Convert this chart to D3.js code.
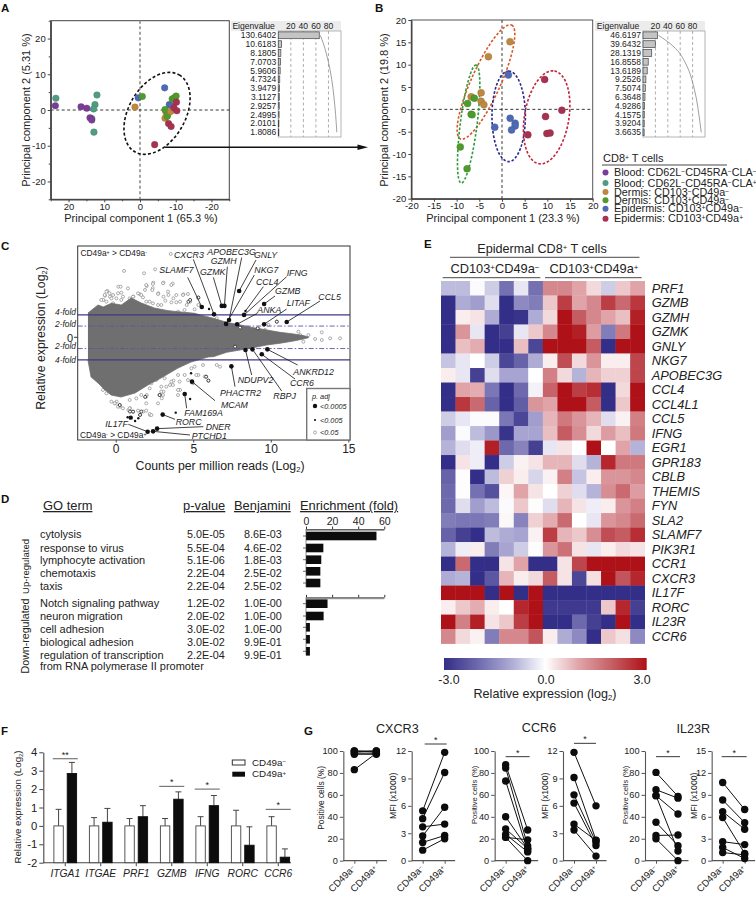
<!DOCTYPE html>
<html><head><meta charset="utf-8">
<script src="https://cdn.jsdelivr.net/npm/d3@7/dist/d3.min.js"></script>
<style>
html,body{margin:0;padding:0;background:#fff}
svg{display:block;font-family:"Liberation Sans",Arial,sans-serif}
svg text{fill:#222}
</style></head><body>
<script>
// ---------- DATA ----------
const pcaGroupNames=["Blood: CD62L^−CD45RA^−CLA^−","Blood: CD62L^−CD45RA^−CLA^+","Dermis: CD103^−CD49a^−","Dermis: CD103^+CD49a^−","Epidermis: CD103^+CD49a^−","Epidermis: CD103^+CD49a^+"];
const pcaColors=["#7b3c98","#4f9c82","#bd8840","#4f9a2c","#4f6ab4","#a7324f"];
// panel A scores [PC1, PC2, group]
const pcaAScores=[
[23.55,3.3,1],[12.05,4.2,1],[12.6,1.5,1],[13,0.3,1],[13.5,-2.4,1],[12.9,-6.2,1],
[23.7,1.2,0],[16.5,0.9,0],[14.9,0.5,0],[14,-2.2,0],[13.5,-2.8,0],
[1.4,0.8,2],[-7,-2.3,2],[-7.3,-0.8,2],[-7.8,-1.3,2],
[0.5,3.4,4],[-6.9,6.2,4],[-8.2,1.5,4],[-8.7,1.2,4],
[-0.65,3.8,3],[-7,0.1,3],[-9,3.1,3],[-9.6,3.4,3],[-10.1,3.9,3],[-7.6,-1.8,3],
[-8.6,-0.4,2],
[-4.1,-9.7,5],[-10.2,2.2,5],[-9.5,0.6,5],[-10.3,-0.2,5],[-8,-3.8,5],[-8.7,-4.6,5]];
const pcaBScores=[
[1.76,15.15,2],[-3,11.8,2],[-4.6,3.7,2],[-6.8,2.8,2],[-4.6,1.8,2],[-4,1.05,2],
[-6.1,2.5,3],[-7.6,1.3,3],[-6.8,-1.1,3],[-6.6,-1.2,3],[-9.2,-8.4,3],[-7.7,-13.3,3],
[1.4,7.7,4],[1.8,-2,4],[2.9,-3.1,4],[2.9,-3.7,4],[2.1,-4.6,4],[-1.6,-4,4],
[9.4,6.7,5],[13.2,-0.2,5],[9.6,-1.6,5],[5.7,-5.7,5],[9.9,-5.4,5],[10.6,-5.3,5]];
const eigenA=[130.6402,10.6183,8.1805,7.0703,5.9606,4.7324,3.9479,3.1127,2.9257,2.4995,2.0101,1.8086];
const eigenB=[46.6197,39.6432,28.1319,16.8558,13.6189,9.2526,7.5074,6.3648,4.9286,4.1575,3.9204,3.6635];
const eigenTicks=[20,40,60,80];

// panel C: outline of the dense grey cloud
const cloudUpperX=[-1.79,-1.14,-0.8,-0.28,0.36,1.0,1.65,2.5,3.37,4.0,5.1,5.44,6.3,7.16,8.02,8.88,9.74,10.6,11.46,12.1,12.43];
const cloudUpperY=[2.16,2.87,2.7,3.02,2.87,3.49,3.05,2.6,2.37,2.28,2.13,1.99,1.69,1.33,1.1,0.86,0.65,0.44,0.3,0.15,0.03];
const cloudLowerX=[12.43,12.1,11.46,10.6,9.74,8.88,8.02,7.16,6.3,5.96,4.86,4.02,2.92,2.08,1.25,0.34,-0.3,-0.69,-1.14,-1.59,-1.79];
const cloudLowerY=[-0.03,-0.15,-0.33,-0.53,-0.68,-0.92,-1.13,-1.33,-1.72,-1.75,-2.2,-2.73,-3.62,-4.24,-4.95,-5.31,-5.13,-4.68,-4.06,-3.53,-2.02];
const cOpenPoints=[[3.55,7.41],[0.54,5.9],[2.54,6.04],[1.83,5.69],[2,4.56],[2.43,4.86],[3.08,4.86],[3.68,4.77],[2.39,4.36],[1.89,4.21],[0.17,4.5],[0.32,4.5],[-0.54,4.12],[-0.69,3.7],[-0.8,3.32],[-0.37,3.61],[1.14,3.61],[1.57,3.82],[2.75,3.91],[3.08,3.61],[3.4,3.76],[4.37,3.82],[5.33,3.53],[4.8,3.17],[4.58,2.87],[4.15,3.17],[3.72,3.47],[5.33,2.87],[5.98,1.54],[6.52,1.69],[6.73,1.24],[9.2,0.74],[9.63,0.65],[10.39,1.39],[9.85,1.1],[11.78,0.5],[11.9,0.2],[12.43,0.2],[13.29,0.44],[12.86,-0.15],[13.29,-0.24],[13.83,-0.09],[14.47,-0.09],[12.1,-0.39],[12,0.06],[7.81,-0.98],[6.73,-2.61],[6.52,-2.46],[5.83,-3.5],[5.98,-3.85],[5.33,-3.35],[4.15,-4.68],[3.72,-3.85],[3.5,-4.24],[2.86,-5.13],[3.08,-4.83],[2,-5.13],[1.57,-6.9],[2.22,-6.9],[0.92,-6.31],[0.06,-5.72],[-0.04,-5.87],[0.28,-6.16],[0.82,-6.46],[1.78,-6.6],[2.97,-5.42],
// band above the solid cloud
[-0.6,4.06],[-0.39,3.91],[-0.71,3.76],[-0.17,3.76],[0.15,3.91],[0.36,3.97],[0.47,3.61],[0.04,3.46],[-0.28,3.46],[-0.6,3.17],[-0.93,3.32],[0.79,4.35],[-0.17,3.02],[0.36,3.32],[1.44,3.91],[1.65,3.76],[1.76,3.55],[1.12,3.61],[0.9,3.46],[1.22,3.17],[1.97,3.17],[2.19,3.17],[2.4,3.02],[2.73,2.87],[2.94,2.87],[3.2,3.26],[3.59,3.11],[3.91,3.11],[2.73,3.85],[3.37,4.06],[3.91,3.76],[4.34,3.76],[4.66,3.85],[1.97,4.65],[2.4,4.74],[3.05,4.8],[3.59,4.65],[2.36,4.2],[4.44,2.43],[5.09,2.49],[4.02,2.28],
// band below the solid cloud
[-0.82,-4.68],[-0.6,-4.98],[-0.28,-5.72],[-0.07,-5.87],[0.26,-6.02],[0.47,-6.31],[0.9,-6.31],[1.12,-6.61],[1.44,-6.52],[1.97,-6.52],[2.19,-6.82],[2.3,-6.91],[1.65,-5.13],[1.97,-5.28],[1.97,-5.87],[2.73,-5.87],[2.94,-4.83],[2.83,-5.13],[3.05,-5.13],[3.59,-3.94],[3.69,-4.24],[3.26,-4.39],[4.12,-3.94],[4.45,-3.35],[4.02,-4.68],[4.02,-5.13],[5.09,-2.61],[5.63,-2.46],[4.88,-2.76],[2.94,-4.39],[2.62,-3.8],[2.19,-4.54],[1.33,-5.43],[0.9,-5.57],[0.15,-6.17],[5.74,-3.5],[2.3,-4.09],[3.16,-3.65],[4.02,-3.35],[4.66,-3.8],[5.2,-3.35],[4.98,-4.09]];
const cDarkOpenPoints=[[4.69,3.17],[4.8,3.32],[5.33,3.53],[5.98,-3.85],[5.83,-3.5],[7.7,-0.83],[9.16,0.8],[10.39,1.39],[0.92,-6.6],[1.57,-6.9],[8.02,0.86],[0.26,-6.02],[1.12,-6.61],[1.65,-6.6],[2.83,-5.13],[1.9,-5.3]];
const cSmallPoints=[[6.02,2.52],[4.86,-3.2],[3.87,-6.7],[4.8,-5.48],[1.25,-7.44],[0.77,-7.11],[1.46,-7.2]];
const cExtraBig=[[0.97,-7.14]];
const cGenes=["SLAMF7","CXCR3","GZMK","GZMH","APOBEC3G","GNLY","NKG7","CCL4","IFNG","GZMB","ANKA","LITAF","CCL5","ANKRD12","CCR6","RBPJ","NDUPV2","PHACTR2","MCAM","FAM169A","RORC","DNER","PTCHD1","IL17F"];
const cGeneX=[5.55,6.34,6.84,7.01,7.31,7.96,7.12,8.37,8.28,9.57,7.83,9.57,11.03,9.78,9.42,8.82,8.37,7.46,4.92,4.45,3.03,2.67,2.41,2.06];
const cGeneY=[2.7,2.04,2.79,2.79,1.54,4.12,1.19,2.34,1.99,2.96,1.16,1.16,1.36,-1.07,-1.51,-1.07,-1.13,-2.58,-3.94,-5.04,-6.87,-8.12,-8.36,-8.39];
const cGeneSmall=["CCL4"];
const cXTicks=[0,5,10,15];

// panel D
const goUpTerms=["cytolysis","response to virus","lymphocyte activation","chemotaxis","taxis"];
const goUpP=["5.0E-05","5.5E-04","5.1E-06","2.2E-04","2.2E-04"];
const goUpB=["8.6E-03","4.6E-02","1.8E-03","2.5E-02","2.5E-02"];
const goUpFold=[54,13.3,11.7,11,11];
const goDownTerms=["Notch signaling pathway","neuron migration","cell adhesion","biological adhesion","regulation of transcription"];
const goDownP=["1.2E-02","2.0E-02","3.0E-02","3.0E-02","2.2E-04"];
const goDownB=["1.0E-00","1.0E-00","1.0E-00","9.9E-01","9.9E-01"];
const goDownFold=[16.5,13.5,3,3,3];

// panel E
const heatGenes=["PRF1","GZMB","GZMH","GZMK","GNLY","NKG7","APOBEC3G","CCL4","CCL4L1","CCL5","IFNG","EGR1","GPR183","CBLB","THEMIS","FYN","SLA2","SLAMF7","PIK3R1","CCR1","CXCR3","IL17F","RORC","IL23R","CCR6"];
const heatValues=[
[-0.8,-0.8,-0.05,-0.6,-1.9,-0.3,-1.9,1.4,1.4,1.0,0.4,-0.6,0.6,1.0],
[-3,-1.0,-1.2,-0.4,-3,-1.5,-1.7,0.6,2.4,1.0,1.4,2.4,1.8,2.5],
[-3,0.2,0.3,-1.0,-3,-2.9,-1.0,0.4,3,2,1.4,1,0.7,2.8],
[-3,1.2,-0.3,-3,-2.7,-0.3,0.6,1.4,3,2.8,1.1,-1.7,1.6,3],
[-3,0.7,0.9,-3,-3,0.7,-2.6,3,3,3,2,-3,3,3],
[-0.7,-0.3,0,-0.6,-2.6,-2.1,-1.0,0.2,2.2,0.4,1.2,0.2,0.2,2.3],
[0.2,-0.3,-2.7,-0.4,-1.1,-1.1,0,1.5,0.4,-0.9,0.8,0.5,0.5,2.3],
[-3,1.0,0.9,-1.8,-3,-2.0,-0.15,1.9,3,2.4,2.6,-3,0.4,3],
[-3,2.5,1.8,-2.1,-3,-2.2,1.2,1,3,3,2,-3,0.6,3],
[-0.6,-0.3,-0.05,-0.05,-1.8,-2.6,-1.2,0.8,1.6,1.2,0.8,-0.4,0.15,1.5],
[-1.2,-0.05,-0.8,-1.3,-2.9,-1.1,-1.1,0.7,2,1.3,0.4,1.1,0.7,1.6],
[-0.9,-0.4,-0.2,2.8,-2,-1.6,-2.7,-0.3,0.3,0,3,0,1,-0.9],
[-3,0.3,-0.2,-3,-0.6,0.15,0.3,0.8,0.8,-0.4,-0.9,2.7,1.6,1.6],
[-2.1,-0.02,-3,-0.8,0.5,0.2,-0.5,0.15,1.5,-0.7,0.2,1.2,1.2,1.4],
[-2,-0.02,-1.9,-2.4,0.1,1,0.3,0,0.5,-0.4,-0.9,1.3,1.8,1.1],
[-2,-0.4,-1.2,-0.8,-0.05,0.6,-0.02,-0.4,0.8,0.3,-0.2,0.2,1.2,1.5],
[-1.7,-1.8,-1.8,-1.7,0.08,-1.6,0.5,0.9,1.8,0,-0.3,1.2,1.4,1.8],
[-2.1,-2.7,-3,-0.8,-1,-1.1,0.15,2.4,0.8,0.6,1.3,2.2,2,2.6],
[-0.9,-0.2,0.2,-1.7,-1.1,-0.6,-0.02,1.2,1.7,0.3,-0.3,0.2,0.4,0.3],
[-3,1.8,-3,-3,0.3,1.0,-3,-3,0.3,2.3,3,3,3,3],
[-1.0,-0.9,-3,-2.3,0.8,0.2,0.4,2.0,0.3,-2.6,0.35,3,2.1,2.7],
[3,3,3,-3,3,-3,3,-3,-3,-3,-3,-3,-3,-3],
[0.2,0.6,0.9,0.2,0,2.7,3,-2.8,-2.8,-2.8,-2.8,0.6,2.7,-2.7],
[3,1.5,2.8,0.3,0.6,2.4,3,-3,-3,-2,-2.7,-3,3,-3],
[1.4,0.4,0.15,-1.7,1.4,1.4,2.1,0.2,-1,-1.5,-3,0.6,0.35,-1.5]];
const heatStops=[-3,-2,-1,0,1,2,3];
const heatColors=["#332e87","#6e69ad","#aeabd5","#ffffff","#dfa3a8","#c45c62","#ae1117"];

// panel F
const fGenes=["ITGA1","ITGAE","PRF1","GZMB","IFNG","RORC","CCR6"];
const fNeg=[0,0,0,0,0,0,0];
const fNegTop=[0.9,0.45,0.4,0.4,0.5,0.85,0.5];
const fPos=[2.85,0.2,0.5,1.45,1.1,-1.05,-1.7];
const fPosTop=[3.45,0.95,1.1,1.85,1.65,-0.05,-1.25];
const fSig=["**","","","*","*","","*"];
const fSigY=[3.65,null,null,2.15,2,null,0.9];

// panel G: paired values [CD49a-, CD49a+]
const gCXCR3Pct=[[99,100],[100,99],[98,98],[97,97],[100,100],[83,98]];
const gCXCR3Mfi=[[5.45,11.85],[4.6,9.65],[3.7,4.0],[2.7,5.85],[2.0,2.75],[1.15,2.4]];
const gCCR6Pct=[[87.5,28],[84.5,13.5],[72.6,9],[40,11],[29,11],[24,8],[21.3,0],[21.3,19]];
const gCCR6Mfi=[[11.85,6],[9.1,2.25],[7.2,2.0],[6.3,1.65],[4,2.2],[3.35,0.5]];
const gIL23RPct=[[80.5,58.6],[64.7,57],[59.3,42.5],[59.3,8.8],[35,13.7],[23,23.4],[20,0]];
const gIL23RMfi=[[10.7,7],[8.3,5.2],[6.7,4.3],[5.9,1],[2.6,2.2],[1.8,0.3],[1.1,0.8]];
const gPctTicks=[0,20,40,60,80,100];
const gMfiTicks=[0,3,6,9,12];
const gMfi15Ticks=[0,3,6,9,12,15];

// ---------- HELPERS ----------
const svg=d3.select("body").append("svg").attr("width",756).attr("height",899).attr("viewBox","0 0 756 899");
function rich(sel,str){
  sel.each(function(){
    const t=d3.select(this);t.text(null);
    const parts=str.split(/([\^_].)/).filter(s=>s.length);
    parts.forEach(p=>{
      if(p[0]==="^"){t.append("tspan").attr("font-size","62%").attr("baseline-shift","35%").text(p[1]);}
      else if(p[0]==="_"){t.append("tspan").attr("font-size","62%").attr("baseline-shift","-25%").text(p[1]);}
      else t.append("tspan").text(p);
    });
  });
  return sel;
}
function txt(g,x,y,s,o={}){
  const t=g.append("text").attr("x",x).attr("y",y).attr("font-size",o.size||10)
    .attr("text-anchor",o.anchor||"start");
  if(o.italic)t.attr("font-style","italic");
  if(o.bold)t.attr("font-weight","bold");
  if(o.fill)t.style("fill",o.fill);
  if(o.rotate!=null)t.attr("transform",`rotate(${o.rotate} ${x} ${y})`);
  if(o.underline)t.attr("text-decoration","underline");
  rich(t,s);
  return t;
}
function styleAxis(g,o={}){
  g.selectAll("path.domain").attr("stroke",o.stroke||"#444").attr("stroke-width",o.width||1);
  g.selectAll(".tick line").attr("stroke",o.stroke||"#444").attr("stroke-width",o.tickWidth||1);
  g.selectAll(".tick text").attr("font-size",o.size||10).attr("font-family","inherit").style("fill","#222");
}
[["A",1,12],["B",375,12],["C",1,250],["D",1,503],["E",424,248],["F",1,735],["G",304,735]].forEach(d=>txt(svg,d[1],d[2],d[0],{size:11.5,bold:true,fill:"#111"}));

// ---------- PCA ----------
function pca(o){
  const g=svg.append("g");
  const x=d3.scaleLinear().domain(o.dom).range(o.xr);
  const y=d3.scaleLinear().domain([o.ydom[1],o.ydom[0]]).range(o.yr);
  g.append("rect").attr("x",o.xr[0]).attr("y",o.yr[0]).attr("width",o.xr[1]-o.xr[0]).attr("height",o.yr[1]-o.yr[0]).attr("fill","#fff").attr("stroke",o.frame).attr("stroke-width",1);
  g.append("line").attr("x1",x(0)).attr("x2",x(0)).attr("y1",o.yr[0]).attr("y2",o.yr[1]).attr("stroke",o.vStroke).attr("stroke-width",o.vW).attr("stroke-dasharray","3 2.5");
  g.append("line").attr("x1",o.xr[0]).attr("x2",o.xr[1]).attr("y1",y(0)).attr("y2",y(0)).attr("stroke","#222").attr("stroke-width",0.9).attr("stroke-dasharray","3 2.5");
  const ax=g.append("g").attr("transform",`translate(0,${o.yr[1]})`).call(d3.axisBottom(x).tickValues(o.minor).tickFormat("").tickSize(2).tickSizeOuter(0));
  styleAxis(ax,{stroke:"#444"});
  const ax2=g.append("g").attr("transform",`translate(0,${o.yr[1]})`).call(d3.axisBottom(x).tickValues(o.xticks).tickFormat(d=>d===0?"0":d<0?"-"+(-d):d).tickSize(3).tickPadding(1).tickSizeOuter(0));
  styleAxis(ax2,{stroke:"#444",size:o.tick});
  const ay=g.append("g").attr("transform",`translate(${o.xr[0]},0)`).call(d3.axisLeft(y).tickValues(o.minor).tickFormat("").tickSize(2).tickSizeOuter(0));
  styleAxis(ay,{stroke:"#444"});
  const ay2=g.append("g").attr("transform",`translate(${o.xr[0]},0)`).call(d3.axisLeft(y).tickValues(o.yticks).tickFormat(d=>d===0?"0":d<0?"-"+(-d):d).tickSize(3).tickPadding(2).tickSizeOuter(0));
  styleAxis(ay2,{stroke:"#444",size:o.tick});
  o.ellipses.forEach(e=>{
    g.append("ellipse").attr("rx",e.a).attr("ry",e.b).attr("fill","none").attr("stroke",e.c).attr("stroke-width",e.w||1.6).attr("stroke-dasharray",e.d||"2.6 1.8")
      .attr("transform",`translate(${x(e.cx)},${y(e.cy)}) rotate(${-e.ang})`);
  });
  g.selectAll("circle.p").data(o.scores).join("circle").attr("class","p").attr("cx",d=>x(d[0])).attr("cy",d=>y(d[1])).attr("r",o.r)
    .attr("fill",d=>pcaColors[d[2]]).attr("stroke",d=>d3.color(pcaColors[d[2]]).darker(0.5)).attr("stroke-width",0.4);
  txt(g,o.xt[0],o.xt[1],o.xlab,{size:o.lab,anchor:"middle"});
  txt(g,o.yt[0],o.yt[1],o.ylab,{size:o.lab,anchor:"middle",rotate:-90});
}
function eigen(o){
  const g=svg.append("g");
  const total=200;
  const x=d3.scaleLinear().domain([0,100]).range([o.x0,o.x1]);
  const rows=d3.scalePoint().domain(d3.range(o.values.length)).range([35.3,132.3]);
  g.append("rect").attr("x",o.hx).attr("y",o.top).attr("width",o.x1-o.hx).attr("height",10).attr("fill","#ececec");
  g.append("rect").attr("x",o.x0).attr("y",o.top+10).attr("width",o.x1-o.x0).attr("height",106).attr("fill","#fff").attr("stroke","#b5b5b5").attr("stroke-width",1);
  txt(g,(o.hx+o.x0)/2-1,o.top+8,"Eigenvalue",{size:8.6,anchor:"middle"});
  eigenTicks.forEach(t=>{
    g.append("line").attr("x1",x(t)).attr("x2",x(t)).attr("y1",o.top+10).attr("y2",o.top+116).attr("stroke","#999").attr("stroke-width",0.8).attr("stroke-dasharray","3 2.5");
    txt(g,x(t),o.top+8,String(t),{size:8.6,anchor:"middle"});
  });
  g.selectAll("rect.b").data(o.values).join("rect").attr("class","b").attr("x",o.x0).attr("y",(d,i)=>rows(i)-3.4).attr("height",6.8).attr("width",d=>x(d/total*100)-o.x0)
    .attr("fill","#c4c4c4").attr("stroke","#444").attr("stroke-width",0.7);
  g.selectAll("text.l").data(o.values).join("text").attr("class","l").attr("x",o.x0-2).attr("y",(d,i)=>rows(i)+3).attr("text-anchor","end").attr("font-size",8.5).text(d=>d.toFixed(4));
  const cum=Array.from(d3.cumsum(o.values)).map(v=>v/total*100);
  g.append("path").datum(cum).attr("fill","none").attr("stroke","#888").attr("stroke-width",0.8)
    .attr("d",d3.line().x(d=>x(d)+1).y((d,i)=>rows(i)).curve(d3.curveMonotoneY));
}
pca({dom:[25,-25],ydom:[-25,25],xr:[50.7,229.3],yr:[20.7,199.3],frame:"#444",vStroke:"#999",vW:1.8,
 minor:[-25,-15,-5,5,15,25],xticks:[20,10,0,-10,-20],yticks:[20,10,0,-10,-20],tick:9.5,lab:11,r:3.3,scores:pcaAScores,
 ellipses:[{cx:-4.77,cy:-0.94,a:44.4,b:28.3,ang:60,c:"#111",w:1.6,d:"3 2.2"}],
 xt:[141,221.5],yt:[30,110],xlab:"Principal component 1  (65.3 %)",ylab:"Principal component 2  (5.31 %)"});
eigen({values:eigenA,hx:231,x0:278.3,x1:341,top:21});
pca({dom:[-20,20],ydom:[-20,20],xr:[411.3,592.7],yr:[20,198.7],frame:"#555",vStroke:"#222",vW:0.9,
 minor:[],xticks:d3.range(-20,21,5),yticks:d3.range(-20,21,5),tick:9.5,lab:11,r:3.5,scores:pcaBScores,
 ellipses:[
  {cx:-3.53,cy:6.12,a:62.4,b:14.6,ang:65.8,c:"#d8572a"},
  {cx:-7.35,cy:-3.28,a:59.5,b:8.4,ang:82.8,c:"#2f9a3a"},
  {cx:1.47,cy:-1.57,a:45.3,b:16.7,ang:90,c:"#27278f"},
  {cx:9.85,cy:-1.79,a:47,b:22.2,ang:80.5,c:"#c4203a"}],
 xt:[503,221.5],yt:[388,110],xlab:"Principal component 1  (23.3 %)",ylab:"Principal component 2  (19.8 %)"});
eigen({values:eigenB,hx:595,x0:643,x1:705,top:21});
// arrow from A to B
const arrowG=svg.append("g");
arrowG.append("line").attr("x1",165).attr("x2",360).attr("y1",147.3).attr("y2",147.3).attr("stroke","#111").attr("stroke-width",1.4);
arrowG.append("path").attr("d",d3.line()([[368,147.3],[357.5,144.5],[357.5,150.1]])+"Z").attr("fill","#111");
// legend B
const legB=svg.append("g");
txt(legB,603,162,"CD8^+ T cells",{size:11});
legB.append("line").attr("x1",602).attr("x2",727).attr("y1",165).attr("y2",165).attr("stroke","#333").attr("stroke-width",0.9);
const legRows=[172.5,183,192,200.3,208.7,218.7];
pcaGroupNames.forEach((n,i)=>{
  legB.append("circle").attr("cx",605.5).attr("cy",legRows[i]).attr("r",3).attr("fill",pcaColors[i]);
  txt(legB,614,legRows[i]+3.5,n,{size:10.8});
});

// ---------- PANEL C ----------
(function(){
  const g=svg.append("g");
  const x=d3.scaleLinear().domain([0,15]).range([115.7,348.3]);
  const y=d3.scaleLinear().domain([-1,1]).range([337.3+11.25,337.3-11.25]);
  const L=77.7,R=350,T=246,B=440;
  g.append("rect").attr("x",L).attr("y",T).attr("width",R-L).attr("height",B-T).attr("fill","#fff");
  g.selectAll("circle.o").data(cOpenPoints).join("circle").attr("class","o").attr("cx",d=>x(d[0])).attr("cy",d=>y(d[1])).attr("r",1.5).attr("fill","#fff").attr("stroke","#8a8a8a").attr("stroke-width",0.7);
  const outline=[...cloudUpperX.map((v,i)=>[v,cloudUpperY[i]]),...cloudLowerX.map((v,i)=>[v,cloudLowerY[i]])];
  g.append("path").datum(outline).attr("fill","#6f6f6f").attr("stroke","#6f6f6f").attr("stroke-width",0.8)
    .attr("d",d3.line().x(d=>x(d[0])).y(d=>y(d[1])));
  g.selectAll("circle.d").data(cDarkOpenPoints).join("circle").attr("class","d").attr("cx",d=>x(d[0])).attr("cy",d=>y(d[1])).attr("r",1.5).attr("fill","#fff").attr("stroke","#222").attr("stroke-width",0.8);
  [1,-1].forEach(v=>g.append("line").attr("x1",L).attr("x2",R).attr("y1",y(v)).attr("y2",y(v)).attr("stroke","#5a55a6").attr("stroke-width",0.9).attr("stroke-dasharray","5 2 1.5 2"));
  [2,-2].forEach(v=>g.append("line").attr("x1",L).attr("x2",R).attr("y1",y(v)).attr("y2",y(v)).attr("stroke","#3c3889").attr("stroke-width",1.3));
  // leader ends and label anchors (layout, not data)
  const ox=0,oy=235;
  const layout={SLAMF7:[563,127,478,115],CXCR3:[580,73,522,68],GZMK:[640,127,600,120],GZMH:[682,95,632,88],APOBEC3G:[725,68,622,60],GNLY:[768,75,762,70],NKG7:[763,120,763,113],CCL4:[790,155,768,151],IFNG:[860,125,860,122],GZMB:[825,183,825,178],ANKA:[772,235,772,233],LITAF:[860,222,860,213],CCL5:[960,198,955,195],ANKRD12:[893,390,880,420],CCR6:[885,432,870,453],RBPJ:[845,468,820,492],NDUPV2:[755,420,713,445],PHACTR2:[705,455,660,483],MCAM:[645,497,663,519],FAM169A:[560,520,553,544],RORC:[525,553,527,570],DNER:[610,575,617,585],PTCHD1:[570,600,575,612],IL17F:[385,568,316,575]};
  cGenes.forEach((n,i)=>{
    const l=layout[n];
    g.append("line").attr("x1",x(cGeneX[i])).attr("y1",y(cGeneY[i])).attr("x2",ox+l[0]/3).attr("y2",oy+l[1]/3).attr("stroke","#111").attr("stroke-width",0.8);
  });
  g.selectAll("circle.s").data(cSmallPoints).join("circle").attr("class","s").attr("cx",d=>x(d[0])).attr("cy",d=>y(d[1])).attr("r",1.2).attr("fill","#111");
  g.selectAll("circle.e").data(cExtraBig).join("circle").attr("class","e").attr("cx",d=>x(d[0])).attr("cy",d=>y(d[1])).attr("r",2.2).attr("fill","#111");
  cGenes.forEach((n,i)=>{
    g.append("circle").attr("cx",x(cGeneX[i])).attr("cy",y(cGeneY[i])).attr("r",cGeneSmall.includes(n)?1.2:2.3).attr("fill","#111");
    const l=layout[n];
    txt(g,ox+l[2]/3,oy+l[3]/3,n,{size:8.8,italic:true});
  });
  g.append("rect").attr("x",L).attr("y",T).attr("width",R-L).attr("height",B-T).attr("fill","none").attr("stroke","#333").attr("stroke-width",1);
  const ax=g.append("g").attr("transform",`translate(0,${B})`).call(d3.axisBottom(x).tickValues(cXTicks).tickSize(2.5).tickPadding(2).tickSizeOuter(0));
  ax.select("path.domain").remove();styleAxis(ax,{size:12});
  txt(g,80.5,256,"CD49a^+ > CD49a^-",{size:8.4});
  txt(g,80,438,"CD49a^- > CD49a^+",{size:8.4});
  [["4-fold",2,0],["2-fold",1,1.5],["2-fold",-1,1],["4-fold",-2,3]].forEach(d=>txt(g,76,y(d[1])+d[2]-0.3,d[0],{size:8.4,italic:true,anchor:"end"}));
  txt(g,70,341.5,"0",{size:11,anchor:"middle"});
  g.append("line").attr("x1",74).attr("x2",77.7).attr("y1",337.3).attr("y2",337.3).attr("stroke","#333");
  txt(g,45,338,"Relative expression (Log_2)",{size:12.3,anchor:"middle",rotate:-90});
  txt(g,220,470,"Counts per million reads (Log_2)",{size:12.3,anchor:"middle"});
  // legend
  g.append("rect").attr("x",306.7).attr("y",388.5).attr("width",43.3).attr("height",51.5).attr("fill","#fff").attr("stroke","#777").attr("stroke-width",1.4);
  txt(g,312,399,"p. adj",{size:7.3,italic:true});
  [["<0.0005",406,2.2,"#111"],["<0.005",420,1.1,"#111"],["<0.05",432.5,1.5,"#fff"]].forEach(d=>{
    g.append("circle").attr("cx",315).attr("cy",d[1]).attr("r",d[2]).attr("fill",d[3]).attr("stroke",d[3]==="#fff"?"#888":"none").attr("stroke-width",0.7);
    txt(g,320,d[1]+2.5,d[0],{size:7.3,italic:true});
  });
})();

// ---------- PANEL D ----------
(function(){
  const g=svg.append("g");
  txt(g,43,510,"GO term",{size:12.9,underline:true});
  txt(g,183,510,"p-value",{size:12.9,underline:true});
  txt(g,234,510,"Benjamini",{size:12.9,underline:true});
  txt(g,300,510,"Enrichment (fold)",{size:12.9,underline:true});
  const upY=[538.3,551.7,564.3,577,590];
  const downY=[607.3,620.3,633.3,646,658.7];
  function rows(terms,p,b,ys){terms.forEach((t,i)=>{
    txt(g,40,ys[i],t,{size:11});txt(g,187,ys[i],p[i],{size:10.8});txt(g,244,ys[i],b[i],{size:10.8});});}
  rows(goUpTerms,goUpP,goUpB,upY);rows(goDownTerms,goDownP,goDownB,downY);
  txt(g,40,669.7,"from RNA polymerase II promoter",{size:11});
  txt(g,29,566.5,"Up-regulated",{size:9.5,anchor:"middle",rotate:-90});
  txt(g,29,636,"Down-regulated",{size:10.6,anchor:"middle",rotate:-90});
  const x=d3.scaleLinear().domain([0,60]).range([306,384.3]);
  const foldTicks=[0,20,40,60];
  function bars(vals,axisY,centers,labels){
    g.append("line").attr("x1",x(0)).attr("x2",x(60)).attr("y1",axisY+1).attr("y2",axisY+1).attr("stroke","#a5a5a5").attr("stroke-width",2);
    const a=g.append("g").attr("transform",`translate(0,${axisY})`).call(d3.axisTop(x).tickValues(foldTicks).tickSize(2.5).tickPadding(1.5).tickSizeOuter(0).tickFormat(labels?d3.format("d"):""));
    styleAxis(a,{stroke:"#333",size:10.5,width:0.6});
    g.selectAll(null).data(vals).join("rect").attr("x",x(0)).attr("y",(d,i)=>centers[i]-4.3).attr("height",8.6).attr("width",d=>x(d)-x(0)).attr("fill","#0c0c0c");
    centers.forEach(c=>g.append("line").attr("x1",x(0)-3).attr("x2",x(0)).attr("y1",c).attr("y2",c).attr("stroke","#444").attr("stroke-width",0.8));
    g.append("line").attr("x1",x(0)).attr("x2",x(0)).attr("y1",axisY).attr("y2",centers[4]+4).attr("stroke","#444").attr("stroke-width",0.6);
  }
  bars(goUpFold,529,[536,548,559.7,571.3,583],true);
  bars(goDownFold,597.3,[603.7,616,627.3,639.3,651.3],false);
})();

// ---------- PANEL E ----------
(function(){
  const g=svg.append("g");
  const col=d3.scaleBand().domain(d3.range(14)).range([441,644.7]);
  const row=d3.scaleBand().domain(heatGenes).range([281,643.6]);
  const color=d3.scaleLinear().domain(heatStops).range(heatColors).clamp(true);
  heatValues.forEach((r,i)=>{
    g.selectAll(null).data(r).join("rect").attr("x",(d,j)=>col(j)).attr("y",row(heatGenes[i])).attr("width",col.bandwidth()+0.3).attr("height",row.bandwidth()+0.3).attr("fill",d=>color(d));
    txt(g,651.7,row(heatGenes[i])+row.bandwidth()/2+4.5,heatGenes[i],{size:12.8,italic:true});
  });
  txt(g,542,253,"Epidermal CD8^+ T cells",{size:12.6,anchor:"middle"});
  g.append("line").attr("x1",450).attr("x2",639.5).attr("y1",257.3).attr("y2",257.3).attr("stroke","#333").attr("stroke-width",0.9);
  txt(g,495,273,"CD103^+CD49a^−",{size:12.8,anchor:"middle"});
  txt(g,594,273,"CD103^+CD49a^+",{size:12.8,anchor:"middle"});
  g.append("line").attr("x1",442.7).attr("x2",540.3).attr("y1",277.7).attr("y2",277.7).attr("stroke","#333").attr("stroke-width",0.9);
  g.append("line").attr("x1",545).attr("x2",641.7).attr("y1",277.7).attr("y2",277.7).attr("stroke","#333").attr("stroke-width",0.9);
  // colour bar
  const grad=svg.append("defs").append("linearGradient").attr("id","hg");
  heatStops.forEach((s,i)=>grad.append("stop").attr("offset",(s+3)/6).attr("stop-color",heatColors[i]));
  g.append("rect").attr("x",444).attr("y",658).attr("width",202.7).attr("height",12).attr("fill","url(#hg)");
  [["-3.0",449],["0.0",546],["3.0",642]].forEach(d=>txt(g,d[1],684,d[0],{size:12.4,anchor:"middle"}));
  txt(g,545,697.5,"Relative expression (log_2)",{size:12.6,anchor:"middle"});
})();

// ---------- PANEL F ----------
(function(){
  const g=svg.append("g");
  const y=d3.scaleLinear().domain([-2,4]).range([862.7,752.3]);
  const x0=d3.scaleBand().domain(fGenes).range([43.3+4.2,43.3+4.2+7*35.5]);
  const off=6.67,bw=9.4;
  const ay=g.append("g").attr("transform","translate(43.3,0)").call(d3.axisLeft(y).tickValues(d3.range(-2,5)).tickSize(4).tickPadding(2).tickSizeOuter(0).tickFormat(d=>d));
  styleAxis(ay,{size:11.3,stroke:"#444",width:1.1});
  const ax=g.append("g").attr("transform","translate(0,862.7)").call(d3.axisBottom(x0).tickSize(3.5).tickSizeOuter(0).tickPadding(3));
  styleAxis(ax,{size:10.3,stroke:"#444",width:1.1});
  ax.selectAll(".tick text").attr("font-style","italic");
  ax.select("path.domain").attr("d","M43.3,0H291");
  fGenes.forEach((n,i)=>{
    const c=x0(n)+x0.bandwidth()/2;
    [[c-off,fNeg[i],fNegTop[i],"#fff"],[c+off,fPos[i],fPosTop[i],"#0c0c0c"]].forEach(b=>{
      g.append("line").attr("x1",b[0]).attr("x2",b[0]).attr("y1",y(b[1])).attr("y2",y(b[2])).attr("stroke","#444").attr("stroke-width",1);
      g.append("line").attr("x1",b[0]-3).attr("x2",b[0]+3).attr("y1",y(b[2])).attr("y2",y(b[2])).attr("stroke","#444").attr("stroke-width",1);
      g.append("rect").attr("x",b[0]-bw/2).attr("width",bw).attr("y",y(b[1])).attr("height",y(-2)-y(b[1])).attr("fill",b[3]).attr("stroke",b[3]==="#fff"?"#444":"#0c0c0c").attr("stroke-width",0.9);
    });
    if(fSig[i]){
      g.append("line").attr("x1",c-12.5).attr("x2",c+12.5).attr("y1",y(fSigY[i])).attr("y2",y(fSigY[i])).attr("stroke","#333").attr("stroke-width",0.8);
      txt(g,c,y(fSigY[i])-1,fSig[i],{size:9,anchor:"middle"});
    }
  });
  g.append("rect").attr("x",232.3).attr("y",760).attr("width",12.7).attr("height",5).attr("fill","#fff").attr("stroke","#333");
  g.append("rect").attr("x",232.3).attr("y",771.7).attr("width",12.7).attr("height",5).attr("fill","#0c0c0c");
  txt(g,252,765.5,"CD49a^−",{size:9.8});
  txt(g,252,776.5,"CD49a^+",{size:9.8});
  txt(g,21,807,"Relative expression (Log_2)",{size:9.7,anchor:"middle",rotate:-90});
})();

// ---------- PANEL G ----------
const gLabels=["CD49a^−","CD49a^+"];
function pairs(o){
  const g=svg.append("g");
  const top=690+183/3,bot=690+512/3;
  const ax0=320+o.ax/3;
  const x=d3.scalePoint().domain(gLabels).range([ax0+11,ax0+33]);
  const y=d3.scaleLinear().domain([0,o.max]).range([bot,top]);
  const ay=g.append("g").attr("transform",`translate(${ax0},0)`).call(d3.axisLeft(y).tickValues(o.ticks).tickSize(3.5).tickPadding(2).tickSizeOuter(0));
  styleAxis(ay,{size:9.2,stroke:"#555",width:1.1});
  const ax=g.append("g").attr("transform",`translate(0,${bot})`).call(d3.axisBottom(x).tickSize(3).tickFormat("").tickSizeOuter(0));
  styleAxis(ax,{stroke:"#555",width:1.1});
  ax.select("path.domain").attr("d",`M${ax0},0H${ax0+43.5}`);
  gLabels.forEach(l=>{
    txt(g,x(l)+1.5,bot+8.5,l,{size:9.6,anchor:"end",rotate:-45});
  });
  o.data.forEach(d=>{
    g.append("line").attr("x1",x(gLabels[0])).attr("x2",x(gLabels[1])).attr("y1",y(d[0])).attr("y2",y(d[1])).attr("stroke","#111").attr("stroke-width",1);
    g.append("circle").attr("cx",x(gLabels[0])).attr("cy",y(d[0])).attr("r",3.7).attr("fill","#0c0c0c");
    g.append("circle").attr("cx",x(gLabels[1])).attr("cy",y(d[1])).attr("r",3.7).attr("fill","#0c0c0c");
  });
  txt(g,320+o.tx/3,(top+bot)/2+o.dy,o.title,{size:o.ts,anchor:"middle",rotate:-90});
  if(o.sig!=null){
    const sy=690+o.sig/3;
    g.append("line").attr("x1",x(gLabels[0])+o.s0).attr("x2",x(gLabels[1])+o.s1).attr("y1",sy).attr("y2",sy).attr("stroke","#222").attr("stroke-width",0.9);
    txt(g,(x(gLabels[0])+x(gLabels[1])+o.s0+o.s1)/2,sy-1,"*",{size:9,anchor:"middle"});
  }
}
pairs({ax:70,max:100,ticks:gPctTicks,data:gCXCR3Pct,title:"Positive cells (%)",tx:12,ts:8.4,dy:-8});
pairs({ax:275,max:12,ticks:gMfiTicks,data:gCXCR3Mfi,title:"MFI (x1000)",tx:228,ts:8.6,dy:-10,sig:162,s0:2,s1:2});
pairs({ax:524,max:100,ticks:gPctTicks,data:gCCR6Pct,title:"Positive cells (%)",tx:470,ts:7.7,dy:-11,sig:200,s0:0,s1:2});
pairs({ax:729,max:12,ticks:gMfiTicks,data:gCCR6Mfi,title:"MFI (x1000)",tx:685,ts:8.6,dy:-10,sig:160,s0:0,s1:0});
pairs({ax:975,max:100,ticks:gPctTicks,data:gIL23RPct,title:"Positive cells (%)",tx:925,ts:7.7,dy:-11,sig:200,s0:0,s1:2});
pairs({ax:1175,max:15,ticks:gMfi15Ticks,data:gIL23RMfi,title:"MFI (x1000)",tx:1130,ts:8.6,dy:-10,sig:200,s0:-1,s1:2});
[["CXCR3",232,128],["CCR6",657,125],["IL23R",1120,128]].forEach(d=>txt(svg,320+d[1]/3,690+d[2]/3,d[0],{size:12.6,anchor:"middle"}));
</script>
</body></html>
